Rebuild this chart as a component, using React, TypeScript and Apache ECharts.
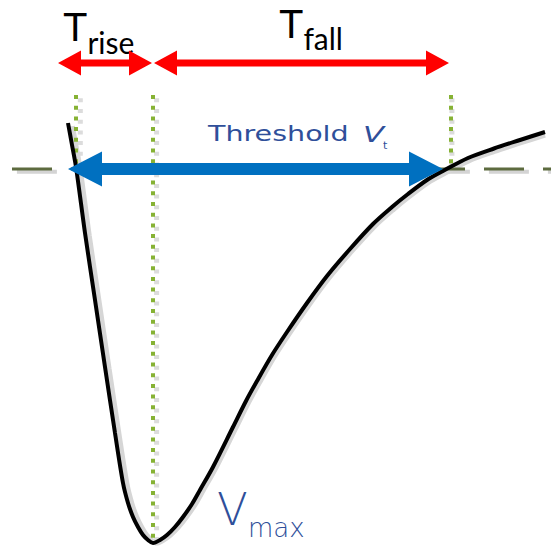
import React, { useEffect, useRef } from "react";
import * as echarts from "echarts";

// Picture units: time runs left to right, voltage axis is drawn inverted (down = deeper pulse)
const curveTime = [68, 72, 76, 85, 95, 105, 115, 123, 128, 133, 138, 143, 148, 153, 160, 167, 175, 183, 192, 200, 213, 233, 246, 257, 272, 287, 307, 327, 350, 373, 392, 408, 427, 443, 468, 494, 520, 545];
const curveLevel = [123, 145, 167, 233, 300, 367, 433, 483, 503, 517, 527, 535, 540, 543, 540, 535, 527, 517, 504, 490, 467, 427, 401, 381, 355, 332, 303, 276, 249, 224, 207, 194, 180, 171, 158, 148.5, 140, 132];

const thresholdLevel = 169;
const thresholdFrom = 12;
const thresholdTo = 551;

// vertical dotted markers: time, top, bottom
const markerTime = [76, 153, 451];
const markerTop = [95, 95, 95];
const markerBottom = [166, 544, 168];

// arrows: start time, end time, level
const redArrows = [
  [58, 152, 63],
  [154, 449, 63],
];
const blueArrows = [[68, 443, 169]];

function arrowSeries(data: number[][], color: string, shaft: number, headLen: number, headHalf: number) {
  return {
    type: "custom",
    coordinateSystem: "cartesian2d",
    clip: false,
    silent: true,
    encode: { x: [0, 1], y: 2 },
    data,
    renderItem: (params: any, api: any) => {
      const p1 = api.coord([api.value(0), api.value(2)]);
      const p2 = api.coord([api.value(1), api.value(2)]);
      const y = p1[1];
      const x1 = p1[0];
      const x2 = p2[0];
      const s = shaft / 2;
      return {
        type: "polygon",
        shape: {
          points: [
            [x1, y],
            [x1 + headLen, y - headHalf],
            [x1 + headLen, y - s],
            [x2 - headLen, y - s],
            [x2 - headLen, y - headHalf],
            [x2, y],
            [x2 - headLen, y + headHalf],
            [x2 - headLen, y + s],
            [x1 + headLen, y + s],
            [x1 + headLen, y + headHalf],
          ],
        },
        style: { fill: color },
      };
    },
  };
}

function lineSeries(points: number[][], axis: number, lineStyle: any, z: number, extra: any = {}) {
  return {
    type: "line",
    silent: true,
    showSymbol: false,
    xAxisIndex: axis,
    yAxisIndex: axis,
    data: points,
    lineStyle,
    z,
    ...extra,
  };
}

function subText(x: number, y: number, main: string, sub: string, pad: number) {
  return {
    type: "text",
    x,
    y,
    style: {
      text: `{b|${main}}{s|${sub}}`,
      fill: "#000",
      align: "left",
      verticalAlign: "top",
      rich: {
        b: { fontFamily: "Liberation Sans", fontSize: 40, lineHeight: 40, padding: [0, 0, pad, 0], fill: "#000" },
        s: { fontFamily: "Lato", fontSize: 30, lineHeight: 40, padding: [pad, 0, 0, 0], fill: "#000" },
      },
    },
  };
}

export default function App() {
  const ref = useRef<HTMLDivElement>(null);
  useEffect(() => {
    if (!ref.current) return;
    const chart = echarts.init(ref.current, undefined, { renderer: "svg" });
    const markerPts = markerTime.map((t, i) => [
      [t, markerTop[i]],
      [t, markerBottom[i]],
    ]);
    const thresholdPts = [
      [thresholdFrom, thresholdLevel],
      [thresholdTo, thresholdLevel],
    ];
    const curvePts = curveTime.map((t, i) => [t, curveLevel[i]]);
    const curveExtra = { smooth: 0.3 };
    const blue = "#2f4f9a";
    const series: any[] = [];
    // shadows (drawn on an offset copy of the axes)
    markerPts.forEach((p) => series.push(lineSeries(p, 1, { color: "#dcdcdc", width: 5, type: [4, 6.7] }, 0)));
    series.push(lineSeries(thresholdPts, 1, { color: "#d4d4d4", width: 4, type: [40, 19] }, 0));
    series.push(lineSeries(curvePts, 1, { color: "#d6d6d6", width: 5 }, 0, curveExtra));
    // main marks
    markerPts.forEach((p) => series.push(lineSeries(p, 0, { color: "#86b234", width: 4, type: [4, 6.7] }, 1)));
    series.push(lineSeries(thresholdPts, 0, { color: "#5d6b3f", width: 3, type: [40, 19] }, 2));
    series.push(lineSeries(curvePts, 0, { color: "#000000", width: 4 }, 3, curveExtra));
    series.push({ ...arrowSeries(redArrows, "#ff0000", 7, 23, 12.5), z: 4 });
    series.push({ ...arrowSeries(blueArrows, "#0070c0", 12, 34, 17.5), z: 5 });

    chart.setOption({
      animation: false,
      backgroundColor: "#ffffff",
      grid: [
        { left: 0, right: 0, top: 0, bottom: 0 },
        { left: 5, right: -5, top: 4, bottom: -4 },
      ],
      xAxis: [
        { type: "value", min: 0, max: 551, show: false, gridIndex: 0 },
        { type: "value", min: 0, max: 551, show: false, gridIndex: 1 },
      ],
      yAxis: [
        { type: "value", min: 0, max: 554, inverse: true, show: false, gridIndex: 0 },
        { type: "value", min: 0, max: 554, inverse: true, show: false, gridIndex: 1 },
      ],
      series,
      graphic: [
        subText(63, 14.5, "T", "rise", 15.7),
        subText(279, 11, "T", "fall", 14.7),
        { type: "text", x: 208, y: 134, scaleX: 1.36, style: { text: "Threshold", fill: blue, fontFamily: "DejaVu Sans", fontSize: 21, align: "left", verticalAlign: "middle" } },
        { type: "text", x: 363, y: 134, scaleX: 1.4, style: { text: "V", fill: blue, fontFamily: "DejaVu Sans", fontStyle: "italic", fontSize: 22, align: "left", verticalAlign: "middle" } },
        { type: "text", x: 383, y: 145, style: { text: "t", fill: blue, fontFamily: "DejaVu Sans", fontSize: 11, align: "left", verticalAlign: "middle" } },
        { type: "text", x: 217, y: 509, style: { text: "V", fill: blue, fontFamily: "DejaVu Sans", fontWeight: 200, fontSize: 45, align: "left", verticalAlign: "middle" } },
        { type: "text", x: 248, y: 528, style: { text: "max", fill: blue, fontFamily: "DejaVu Sans", fontWeight: 200, fontSize: 26, align: "left", verticalAlign: "middle" } },
      ],
    });
    return () => chart.dispose();
  }, []);
  return <div ref={ref} style={{ position: "absolute", left: 0, top: 0, width: 551, height: 554 }} />;
}
